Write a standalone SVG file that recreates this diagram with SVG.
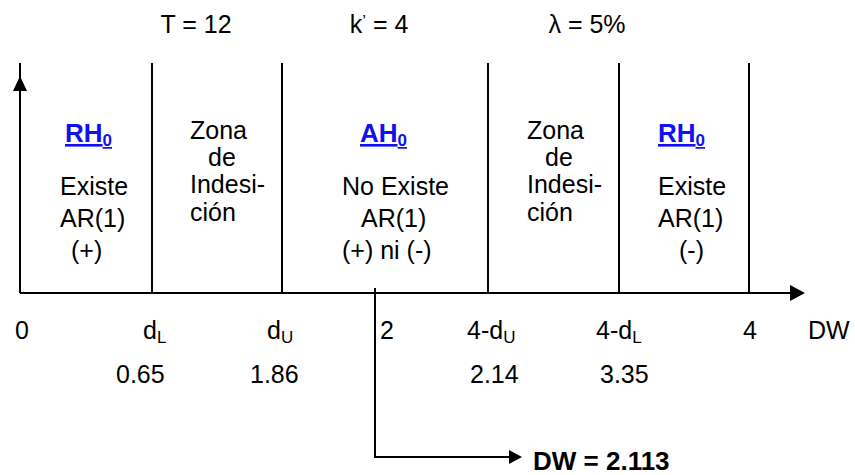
<svg xmlns="http://www.w3.org/2000/svg" width="855" height="475" viewBox="0 0 855 475">
<style>
text{font-family:"Liberation Sans",Arial,sans-serif;font-size:25px;fill:#000}
.h{font-weight:bold;font-size:26px;fill:#1010f0;text-decoration:underline}
.sub{font-size:17px}
.ln{stroke:#000;stroke-width:2;fill:none}
.b{font-weight:bold;font-size:26px}
</style>
<g id="params">
<text x="196" y="33" text-anchor="middle">T = 12</text>
<text x="379" y="33" text-anchor="middle">k<tspan class="sub" dy="-6">’</tspan><tspan dy="6"> = 4</tspan></text>
<text x="587" y="33" text-anchor="middle">λ = 5%</text>
</g>
<g id="connectors">
<line class="ln" x1="20" y1="293" x2="20" y2="63"/>
<path d="M20,76 L27,91 L13,91 Z" fill="#000"/>
<line class="ln" x1="20" y1="293" x2="791" y2="293"/>
<path d="M805,293 L790,285 L790,301 Z" fill="#000"/>
<line class="ln" x1="152" y1="63" x2="152" y2="293"/>
<line class="ln" x1="282" y1="63" x2="282" y2="293"/>
<line class="ln" x1="488" y1="63" x2="488" y2="293"/>
<line class="ln" x1="619" y1="63" x2="619" y2="293"/>
<line class="ln" x1="749" y1="63" x2="749" y2="293"/>
<path class="ln" d="M375,288 L375,457 L510,457"/>
<path d="M522,457 L509,450 L509,464 Z" fill="#000"/>
</g>
<g id="zone-rh0-left">
<text class="h" x="65" y="142">RH<tspan class="sub" dy="4">0</tspan></text>
<text x="60" y="195">Existe</text>
<text x="60" y="227">AR(1)</text>
<text x="71" y="259">(+)</text>
</g>
<g id="zone-indecision-left">
<text x="190" y="139">Zona</text>
<text x="208" y="166">de</text>
<text x="190" y="193">Indesi-</text>
<text x="190" y="221">ción</text>
</g>
<g id="zone-ah0">
<text class="h" x="360" y="142">AH<tspan class="sub" dy="4">0</tspan></text>
<text x="342" y="195">No Existe</text>
<text x="361" y="227">AR(1)</text>
<text x="342" y="259">(+) ni (-)</text>
</g>
<g id="zone-indecision-right">
<text x="527" y="139">Zona</text>
<text x="545" y="166">de</text>
<text x="527" y="193">Indesi-</text>
<text x="527" y="221">ción</text>
</g>
<g id="zone-rh0-right">
<text class="h" x="658" y="142">RH<tspan class="sub" dy="4">0</tspan></text>
<text x="658" y="195">Existe</text>
<text x="658" y="227">AR(1)</text>
<text x="679" y="259">(-)</text>
</g>
<g id="axis-labels">
<text x="15" y="339">0</text>
<text x="143" y="339">d<tspan class="sub" dy="4">L</tspan></text>
<text x="267" y="339">d<tspan class="sub" dy="4">U</tspan></text>
<text x="380" y="339">2</text>
<text x="467" y="339">4-d<tspan class="sub" dy="4">U</tspan></text>
<text x="596" y="339">4-d<tspan class="sub" dy="4">L</tspan></text>
<text x="743" y="339">4</text>
<text x="808" y="339">DW</text>
</g>
<g id="values">
<text x="116" y="383">0.65</text>
<text x="250" y="383">1.86</text>
<text x="470" y="383">2.14</text>
<text x="600" y="383">3.35</text>
</g>
<g id="result">
<text class="b" x="533" y="470">DW = 2.113</text>
</g>
</svg>
